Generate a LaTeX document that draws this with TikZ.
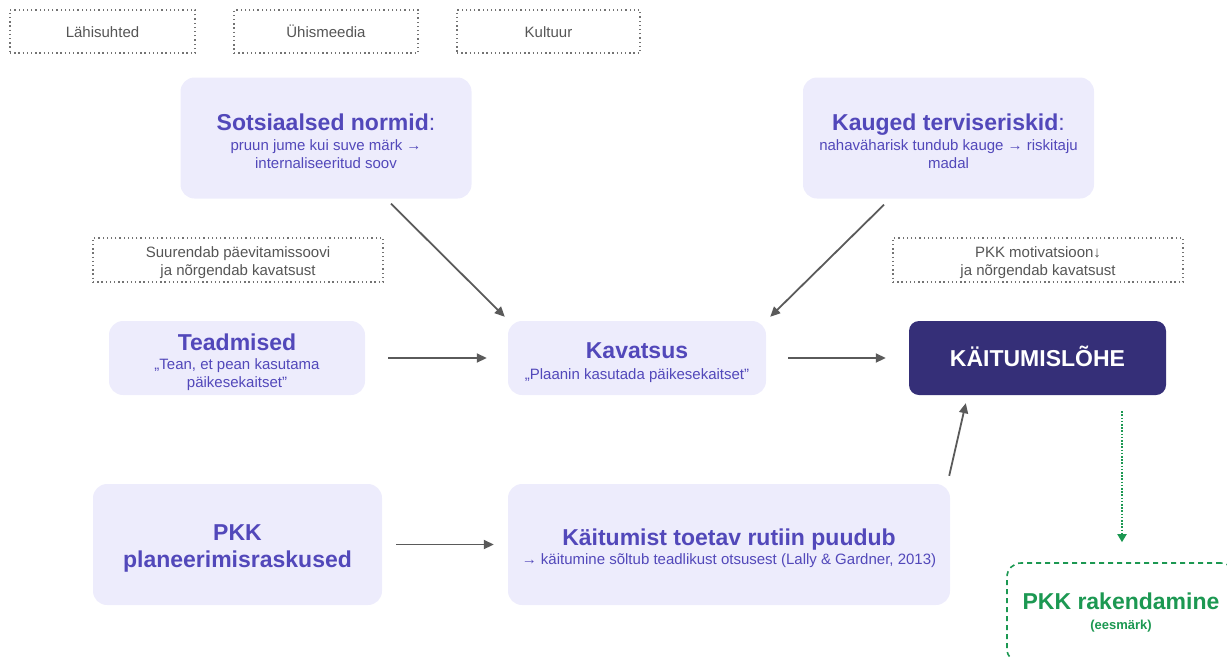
\documentclass[tikz,border=0pt]{standalone}
\usepackage{fontspec}
\setmainfont{Liberation Sans}
\usetikzlibrary{arrows.meta}
\definecolor{lav}{RGB}{237,236,252}
\definecolor{ink}{RGB}{82,72,186}
\definecolor{deep}{RGB}{53,47,120}
\definecolor{grn}{RGB}{28,152,82}
\definecolor{arrgray}{RGB}{90,90,90}
\definecolor{tagline}{RGB}{115,115,115}
\definecolor{tagtext}{RGB}{85,85,85}
\newcommand\mytitle{\fontsize{23}{26}\selectfont\bfseries}
\newcommand\mysub{\fontsize{15}{18}\selectfont}
\newcommand\pushdown[1]{\rule{0pt}{#1}}
\begin{document}
\begin{tikzpicture}[x=1pt,y=-1pt,
  soft/.style={fill=lav, rounded corners=14pt, inner sep=0pt, align=center, text=ink, font=\mysub},
  tagbox/.style={draw=tagline, dash pattern=on 1.3pt off 2.9pt, line width=1.3pt, inner sep=0pt, align=center, text=tagtext, font=\mysub},
  arr/.style={draw=arrgray, line width=1.8pt, -{Triangle[length=10pt,width=9pt]}},
]
\useasboundingbox (0,0) rectangle (1227,657);
\clip (0,0) rectangle (1227,657);

% top tags
\node[tagbox, minimum width=185pt, minimum height=43pt] (lah) at (102.5,31.5) {\pushdown{13pt}Lähisuhted};
\node[tagbox, minimum width=184pt, minimum height=43pt] (uhis) at (326,31.5) {Ühismeedia};
\node[tagbox, minimum width=183pt, minimum height=43pt] (kult) at (548.5,31.5) {\pushdown{13pt}Kultuur};

% upper boxes
\node[soft, minimum width=291pt, minimum height=121pt] (sots) at (326,138)
  {\pushdown{23pt}{\mytitle Sotsiaalsed normid}{\fontsize{23}{26}\selectfont:}\\[2pt]pruun jume kui suve märk →\\internaliseeritud soov};
\node[soft, minimum width=291pt, minimum height=121pt] (kaug) at (948.5,138)
  {\pushdown{23pt}{\mytitle Kauged terviseriskid}{\fontsize{23}{26}\selectfont:}\\[2pt]nahaväharisk tundub kauge → riskitaju\\madal};

% middle tags
\node[tagbox, minimum width=290pt, minimum height=44pt] (suur) at (238,260)
  {\pushdown{17pt}Suurendab päevitamissoovi\\ja nõrgendab kavatsust};
\node[tagbox, minimum width=290pt, minimum height=44pt] (pkkm) at (1038,260)
  {\pushdown{17pt}PKK motivatsioon↓\\ja nõrgendab kavatsust};

% middle row
\node[soft, minimum width=256pt, minimum height=74pt] (tead) at (237,358)
  {\pushdown{25pt}{\mytitle Teadmised}\\[1pt]„Tean, et pean kasutama\\päikesekaitset”};
\node[soft, minimum width=258pt, minimum height=74pt] (kav) at (637,358)
  {\pushdown{25pt}{\mytitle Kavatsus}\\[3pt]„Plaanin kasutada päikesekaitset”};
\node[fill=deep, rounded corners=10pt, inner sep=0pt, minimum width=257pt, minimum height=74pt,
  text=white, font=\mytitle] (lohe) at (1037.5,358) {KÄITUMISLÕHE\rule[-4pt]{0pt}{4pt}};

% bottom row
\node[soft, minimum width=289pt, minimum height=121pt, font=\fontsize{23}{27}\selectfont\bfseries] (plan) at (237.5,544.5)
  {\pushdown{23pt}PKK\\planeerimisraskused};
\node[soft, minimum width=442pt, minimum height=121pt] (kait) at (729,544.5)
  {\pushdown{25pt}{\mytitle Käitumist toetav rutiin puudub}\\[1pt]→ käitumine sõltub teadlikust otsusest (Lally \& Gardner, 2013)};

% goal
\node[draw=grn, dash pattern=on 5pt off 4pt, line width=1.6pt, rounded corners=14pt, inner sep=0pt,
  minimum width=228pt, minimum height=100pt, align=center, text=grn, font=\fontsize{13}{16}\selectfont\bfseries] (rak) at (1121,613)
  {{\fontsize{23}{26}\selectfont\bfseries PKK rakendamine}\\[4pt](eesmärk)};

% connectors
\draw[arr] ([xshift=65pt,yshift=-5pt]sots.south) -- ([xshift=-3pt,yshift=4pt]kav.north west);
\draw[arr] ([xshift=-64.5pt,yshift=-6pt]kaug.south) -- ([xshift=4pt,yshift=4pt]kav.north east);
\draw[arr] ([xshift=23pt]tead.east) -- ([xshift=-21pt]kav.west);
\draw[arr] ([xshift=22pt]kav.east) -- ([xshift=-23pt]lohe.west);
\draw[arr] ([xshift=14pt]plan.east) -- ([xshift=-14pt]kait.west);
\draw[arr] ([xshift=-1pt,yshift=8pt]kait.north east) -- ([xshift=57pt,yshift=-8pt]lohe.south west);
\coordinate (g1) at ([xshift=84.5pt,yshift=-16pt]lohe.south);
\coordinate (g2) at ([yshift=20pt]rak.north);
\draw[draw=grn, line width=1.8pt, dash pattern=on 1.6pt off 1.6pt, -{Triangle[length=8pt,width=9pt]}] (g1) -- (g1 |- g2);
\end{tikzpicture}
\end{document}
